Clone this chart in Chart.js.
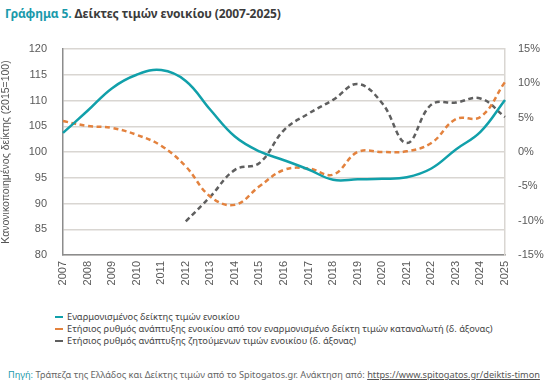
<!DOCTYPE html>
<html>
<head>
<meta charset="utf-8">
<script src="https://cdn.jsdelivr.net/npm/chart.js@4"></script>
<style>
    body { margin: 0; width: 546px; height: 389px; background: #fff; position: relative; overflow: hidden; font-family: "Noto Sans", sans-serif; }
    #title { position: absolute; left: 5px; top: 5px; font-size: 12px; font-weight: bold; color: #3b3b3b; letter-spacing: -0.1px; }
    #title span { color: #1a9aab; }
    #wrap { position: absolute; left: 0; top: 0; width: 546px; height: 300px; }
    #legend { position: absolute; left: 55px; top: 311px; font-size: 9.3px; color: #444; line-height: 12px; }
    #legend div { white-space: nowrap; }
    #legend i { display: inline-block; width: 8px; height: 0; vertical-align: middle; margin-right: 4px; margin-top: -2px; }
    #source { position: absolute; left: 8px; top: 368px; font-size: 9.2px; color: #666; white-space: nowrap; }
    #source span { color: #1a9aab; }
    #source u { color: #555; }
</style>
</head>
<body>
<div id="title"><span>Γράφημα 5.</span> Δείκτες τιμών ενοικίου (2007-2025)</div>
<div id="wrap"><canvas id="chart"></canvas></div>
<div id="legend">
    <div><i style="border-top:2px solid #11a0aa"></i>Εναρμονισμένος δείκτης τιμών ενοικίου</div>
    <div><i style="border-top:2px dashed #e3823e"></i>Ετήσιος ρυθμός ανάπτυξης ενοικίου από τον εναρμονισμένο δείκτη τιμών καταναλωτή (δ. άξονας)</div>
    <div><i style="border-top:2px dashed #5f5f5f"></i>Ετήσιος ρυθμός ανάπτυξης ζητούμενων τιμών ενοικίου (δ. άξονας)</div>
</div>
<div id="source"><span>Πηγή:</span> Τράπεζα της Ελλάδος και Δείκτης τιμών από το Spitogatos.gr. Ανάκτηση από: <u>https://www.spitogatos.gr/deiktis-timon</u></div>
<script>
const years = ['2007', '2008', '2009', '2010', '2011', '2012', '2013', '2014', '2015', '2016',
    '2017', '2018', '2019', '2020', '2021', '2022', '2023', '2024', '2025'];
const rentIndex = [103.7, 108.0, 112.4, 115.0, 115.9, 113.8, 108.2, 103.0, 100.1, 98.4,
    96.6, 94.6, 94.7, 94.8, 95.1, 96.8, 100.5, 103.9, 110.1];
const hicpRentGrowth = [4.5, 3.8, 3.5, 2.5, 0.9, -2.1, -6.5, -7.7, -5.0, -2.6,
    -2.4, -3.3, 0.0, 0.0, 0.1, 1.3, 4.8, 5.1, 10.2];
const askingRentGrowth = [null, null, null, null, null, -10.1, -6.5, -2.6, -1.6, 3.2,
    5.6, 7.6, 9.9, 7.1, 1.3, 6.9, 7.2, 7.8, 5.1];
const leftTicks = [80, 85, 90, 95, 100, 105, 110, 115, 120];
const rightTicks = [-15, -10, -5, 0, 5, 10, 15];

const tickFont = { family: 'Liberation Sans', size: 11 };
const tickColor = '#595959';

new Chart(document.getElementById('chart'), {
    type: 'line',
    data: {
        labels: years,
        datasets: [{
            label: 'Εναρμονισμένος δείκτης τιμών ενοικίου',
            data: rentIndex,
            yAxisID: 'y',
            borderColor: '#11a0aa',
            borderWidth: 2.5,
            tension: 0.4,
            pointRadius: 0
        }, {
            label: 'Ετήσιος ρυθμός ανάπτυξης ενοικίου (ΕνΔΤΚ)',
            data: hicpRentGrowth,
            yAxisID: 'y1',
            borderColor: '#e3823e',
            borderWidth: 2.5,
            borderDash: [5, 3.5],
            tension: 0.4,
            pointRadius: 0
        }, {
            label: 'Ετήσιος ρυθμός ανάπτυξης ζητούμενων τιμών',
            data: askingRentGrowth,
            yAxisID: 'y1',
            borderColor: '#5f5f5f',
            borderWidth: 2.5,
            borderDash: [5, 3.5],
            tension: 0.4,
            pointRadius: 0
        }]
    },
    options: {
        responsive: true,
        maintainAspectRatio: false,
        animation: false,
        layout: { padding: { top: 49, left: 0, right: 0, bottom: 0 } },
        plugins: { legend: { display: false }, tooltip: { enabled: false } },
        scales: {
            x: {
                offset: false,
                grid: { display: false, drawTicks: false },
                border: { color: '#8c8c8c', width: 1.5 },
                ticks: { color: tickColor, font: tickFont, minRotation: 90, maxRotation: 90, padding: 6, autoSkip: false },
                afterFit: s => { s.height = 45; }
            },
            y: {
                position: 'left',
                min: 80, max: 120,
                afterBuildTicks: s => { s.ticks = leftTicks.map(v => ({ value: v })); },
                grid: { color: '#d9d6d2', lineWidth: 1.5, drawTicks: false },
                border: { color: '#8c8c8c', width: 1.5 },
                ticks: { color: tickColor, font: tickFont, padding: 16 },
                title: { display: true, text: 'Κανονικοποιημένος δείκτης (2015=100)', color: '#555', font: { family: 'Liberation Sans', size: 10.5 }, padding: 0 },
                afterFit: s => { s.width = 63; }
            },
            y1: {
                position: 'right',
                min: -15, max: 15,
                afterBuildTicks: s => { s.ticks = rightTicks.map(v => ({ value: v })); },
                grid: { display: false, drawTicks: false },
                border: { color: '#d9d6d2', width: 1.5 },
                ticks: { color: tickColor, font: tickFont, padding: 13, callback: v => v + '%' },
                afterFit: s => { s.width = 41; }
            }
        }
    }
});
</script>
</body>
</html>
